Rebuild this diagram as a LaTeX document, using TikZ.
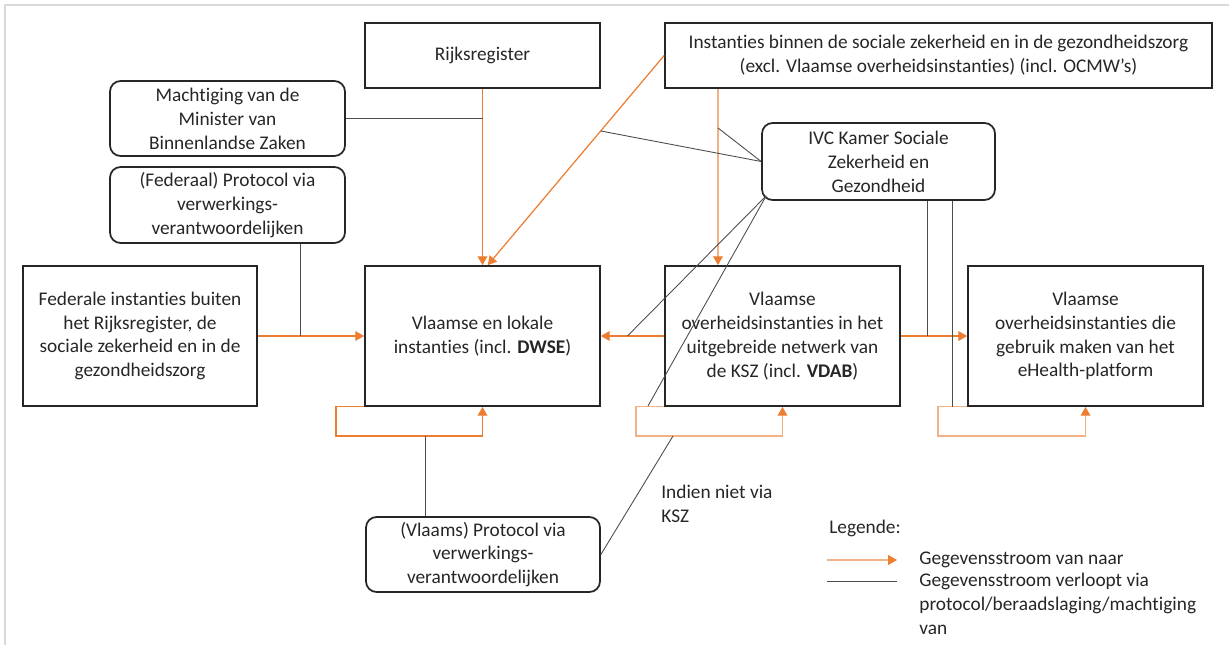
\documentclass[tikz,border=0pt]{standalone}
\usepackage{fontspec}
\setmainfont{Carlito}[Ligatures={NoCommon,NoContextual}]
\usetikzlibrary{positioning,calc,arrows.meta}

\definecolor{oranje}{HTML}{ED7D31}
\definecolor{oranjelicht}{HTML}{F4B183}
\definecolor{kader}{HTML}{D9D9D9}

\tikzset{
  blok/.style={draw=black!85, line width=1pt, align=center, inner sep=0pt,
               text=black!85, font=\fontsize{11pt}{13.6pt}\selectfont},
  rblok/.style={blok, rounded corners=6pt},
  stroom/.style={draw=oranje, line width=0.7pt,
                 -{Triangle[length=5pt,width=5.5pt,color=oranje]}},
  lichtstroom/.style={stroom, draw=oranjelicht},
  via/.style={draw=black!70, line width=0.5pt},
  tekst/.style={align=left, inner sep=0pt, text=black!85,
                font=\fontsize{11pt}{13.6pt}\selectfont},
}

\begin{document}
\begin{tikzpicture}[x=0.02cm, y=-0.02cm]
\useasboundingbox (0,0) rectangle (1229,645);
\draw[kader, line width=1.2pt] (5,645) -- (5,5) -- (1229,5);

% bovenste rij
\node[blok, minimum width=4.7cm, minimum height=1.3cm] (rijks) at (482.5,55.5) {Rijksregister};
\node[blok, minimum width=10.94cm, minimum height=1.3cm] (instanties) at (938.5,55.5)
  {Instanties binnen de sociale zekerheid en in de gezondheidszorg\\
   (excl. Vlaamse overheidsinstanties) (incl. OCMW’s)};
\node[rblok, minimum width=4.7cm, minimum height=1.5cm] (machtiging) at (227.5,118.5)
  {Machtiging van de\\Minister van\\Binnenlandse Zaken};
\node[rblok, minimum width=4.7cm, minimum height=1.52cm] (federaal) at (227.5,205)
  {(Federaal) Protocol via\\verwerkings-\\verantwoordelijken};
\node[rblok, minimum width=4.66cm, minimum height=1.54cm] (ivc) at (878.5,161.5)
  {IVC Kamer Sociale\\Zekerheid en\\Gezondheid};

% middelste rij
\node[blok, minimum width=4.68cm, minimum height=2.8cm] (federale) at (140,336)
  {Federale instanties buiten\\het Rijksregister, de\\sociale zekerheid en in de\\gezondheidszorg};
\node[blok, minimum width=4.7cm, minimum height=2.8cm] (lokaal) at (482.5,336)
  {Vlaamse en lokale\\instanties (incl. \textbf{DWSE})};
\node[blok, minimum width=4.7cm, minimum height=2.8cm] (ksz) at (782.5,336)
  {Vlaamse\\overheidsinstanties in het\\uitgebreide netwerk van\\de KSZ (incl. \textbf{VDAB})};
\node[blok, minimum width=4.7cm, minimum height=2.8cm] (ehealth) at (1085.5,336)
  {Vlaamse\\overheidsinstanties die\\gebruik maken van het\\eHealth-platform};

% onderaan
\node[rblok, minimum width=4.68cm, minimum height=1.5cm] (vprot) at (483,554.5)
  {(Vlaams) Protocol via\\verwerkings-\\verantwoordelijken};
\node[tekst, anchor=north west] (indien) at (661,485) {Indien niet via\\KSZ};

% hulppunten
\coordinate (fedknik) at (300,336);
\coordinate (instknik) at (718,0);
\coordinate (ivchoek) at ([shift={(2.9pt,2.9pt)}]ivc.south west);
\coordinate (lus1) at (336,436);
\coordinate (lus2) at (636,436);
\coordinate (lus3) at (938,436);
\coordinate (knik5) at (648,406);
\coordinate (v1) at (927,0);
\coordinate (v2) at (952,0);
\coordinate (k3) at (425,0);
\coordinate (k4) at (673,436);

% gegevensstromen
\draw[stroom] (rijks.south) -- (lokaal.north);
\draw[stroom] (instanties.west) -- ([xshift=3pt]lokaal.north);
\draw[lichtstroom] (instknik |- instanties.south) -- (instknik |- ksz.north);
\draw[stroom] (federale.east) -- (lokaal.west);
\draw[stroom] (ksz.west) -- (lokaal.east);
\draw[stroom] (ksz.east) -- (ehealth.west);
\draw[stroom] (lokaal.south west) -| (lus1) -| (lokaal.south);
\draw[lichtstroom] (ksz.south west) -| (lus2) -| (ksz.south);
\draw[lichtstroom] (ehealth.south west) -| (lus3) -| (ehealth.south);

% verloopt via
\draw[via] (machtiging.east) -- (machtiging.east -| rijks.south);
\draw[via] (fedknik |- federaal.south) -- (fedknik);
\draw[via] (ivc.west) -- ($(instanties.west)!0.36!([xshift=3pt]lokaal.north)$);
\draw[via] (ivc.west) -- (instknik |- 0,128);
\draw[via] (ivchoek) -- ($(ksz.west)!0.58!(lokaal.east)$);
\draw[via] (ivchoek) -- (knik5);
\draw[via] (v1 |- ivc.south) -- (v1 |- ksz.east);
\draw[via] (v2 |- ivc.south) -- (v2 |- ehealth.south);
\draw[via] (k3 |- vprot.north) -- (k3 |- lus1);
\draw[via] (vprot.east) -- (k4);

% legende
\node[tekst, anchor=base west] (legende) at (829,533) {Legende:};
\coordinate (lega) at (827,560);
\coordinate (legb) at (897,560);
\coordinate (legc) at (827,581);
\coordinate (legd) at (897,581);
\draw[lichtstroom] (lega) -- (legb);
\draw[via] (legc) -- (legd);
\node[tekst, anchor=base west] (leg1) at (919,564) {Gegevensstroom van naar};
\node[tekst, anchor=north west] (leg2) at (919,573)
  {Gegevensstroom verloopt via\\protocol/beraadslaging/machtiging\\van};
\end{tikzpicture}
\end{document}
